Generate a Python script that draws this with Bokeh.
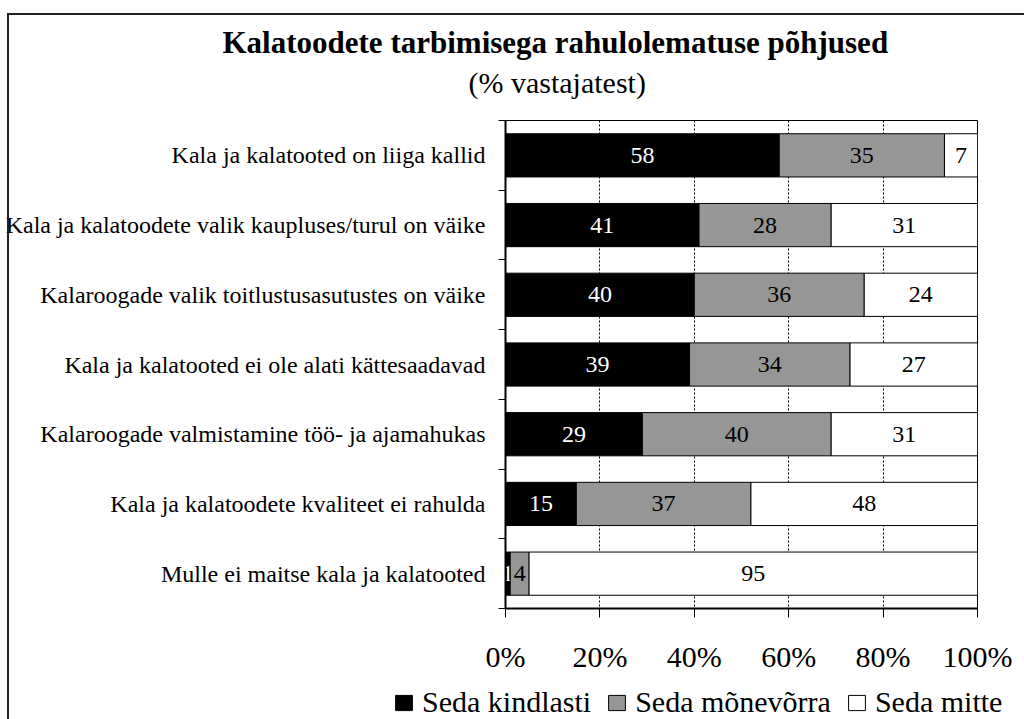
from bokeh.plotting import figure
from bokeh.layouts import column
from bokeh.models import (ColumnDataSource, FixedTicker, Legend, LegendItem, Title,
                          PrintfTickFormatter, Range1d, InlineStyleSheet)
from bokeh.core.properties import value
from bokeh.embed import file_html
from bokeh.resources import INLINE

categories = [
    "Kala ja kalatooted on liiga kallid",
    "Kala ja kalatoodete valik kaupluses/turul on väike",
    "Kalaroogade valik toitlustusasutustes on väike",
    "Kala ja kalatooted ei ole alati kättesaadavad",
    "Kalaroogade valmistamine töö- ja ajamahukas",
    "Kala ja kalatoodete kvaliteet ei rahulda",
    "Mulle ei maitse kala ja kalatooted",
]
seda_kindlasti = [58, 41, 40, 39, 29, 15, 1]
seda_monevorra = [35, 28, 36, 34, 40, 37, 4]
seda_mitte = [7, 31, 24, 27, 31, 48, 95]
series_names = ["Seda kindlasti", "Seda mõnevõrra", "Seda mitte"]
x_ticks = [0, 20, 40, 60, 80, 100]
title_text = "Kalatoodete tarbimisega rahulolematuse põhjused"
subtitle_text = "(% vastajatest)"

FONT = "Liberation Serif"
colors = ["#000000", "#969696", "#ffffff"]
label_colors = ["#ffffff", "#000000", "#000000"]

n = len(categories)
ypos = list(range(n))

p = figure(width=1024, height=675, output_backend="svg", toolbar_location=None,
           title=None,
           x_range=Range1d(0, 100), y_range=Range1d(n - 0.5, -0.5),
           min_border_left=505, min_border_right=47, min_border_top=120,
           min_border_bottom=66,
           background_fill_color="white", border_fill_color="white")
p.frame_align = False
p.outline_line_color = "black"
p.outline_line_width = 1

series = [seda_kindlasti, seda_monevorra, seda_mitte]
sources = []
left = [0] * n
for vals, name, col, tcol in zip(series, series_names, colors, label_colors):
    right = [l + v for l, v in zip(left, vals)]
    src = ColumnDataSource(dict(
        y=ypos, left=left, right=right,
        mid=[(a + b) / 2 for a, b in zip(left, right)],
        txt=[str(v) for v in vals]))
    sources.append(src)
    p.hbar(y="y", left="left", right="right", height=0.62, source=src,
           fill_color=col, line_color="black", line_width=1)
    p.text(x="mid", y="y", text="txt", source=src, text_color=tcol,
           text_font=value(FONT), text_font_size="24px",
           text_align="center", text_baseline="middle")
    left = right

# x axis
p.xaxis.ticker = FixedTicker(ticks=x_ticks)
p.xaxis.formatter = PrintfTickFormatter(format="%d%%")
p.xaxis.major_label_text_font = FONT
p.xaxis.major_label_text_font_size = "30px"
p.xaxis.major_label_text_color = "black"
p.xaxis.major_tick_in = 0
p.xaxis.major_tick_out = 9
p.xaxis.major_tick_line_color = "black"
p.xaxis.minor_tick_line_color = None
p.xaxis.major_label_standoff = 22
p.xaxis.axis_line_width = 2
p.xaxis.axis_line_color = "black"

p.xgrid.ticker = FixedTicker(ticks=x_ticks)
p.xgrid.grid_line_color = "black"
p.xgrid.grid_line_dash = "2 2"
p.xgrid.grid_line_width = 1
p.ygrid.grid_line_color = None

# y axis
p.yaxis.ticker = FixedTicker(ticks=ypos, minor_ticks=[i - 0.5 for i in range(n + 1)])
p.yaxis.major_label_overrides = {i: c for i, c in enumerate(categories)}
p.yaxis.major_label_text_font = FONT
p.yaxis.major_label_text_font_size = "24px"
p.yaxis.major_label_text_color = "black"
p.yaxis.major_tick_in = 0
p.yaxis.major_tick_out = 0
p.yaxis.minor_tick_in = 0
p.yaxis.minor_tick_out = 7
p.yaxis.minor_tick_line_color = "black"
p.yaxis.major_label_standoff = 13
p.yaxis.axis_line_width = 2
p.yaxis.axis_line_color = "black"

# titles (subtitle first: it sits closest to the plot)
p.add_layout(Title(text=subtitle_text, align="left", offset=-37,
                   text_font=FONT, text_font_size="30px", text_font_style="normal",
                   text_color="black", standoff=44), "above")
p.add_layout(Title(text=title_text, align="left", offset=-283,
                   text_font=FONT, text_font_size="31px", text_font_style="bold",
                   text_color="black", standoff=-36), "above")

# legend strip below the chart (its bars use the same sources, kept out of view)
lp = figure(width=1024, height=44, output_backend="svg", toolbar_location=None,
            title=None, x_range=Range1d(-2, -1), y_range=Range1d(0, 1),
            x_axis_location=None, y_axis_location=None, min_border=0,
            background_fill_color="white", border_fill_color="white")
lp.frame_align = False
lp.outline_line_color = None
lp.grid.visible = False
leg_renderers = [lp.hbar(y="y", left="left", right="right", height=0.62, source=src,
                         fill_color=c, line_color="black", line_width=1)
                 for src, c in zip(sources, colors)]
legend = Legend(items=[LegendItem(label=nm, renderers=[r])
                       for nm, r in zip(series_names, leg_renderers)],
                orientation="horizontal", location=(393, 0), padding=0, margin=0,
                spacing=15, label_standoff=8, glyph_width=21, glyph_height=19,
                label_text_font=FONT, label_text_font_size="30px",
                label_text_color="black",
                border_line_color=None, background_fill_alpha=0)
lp.add_layout(legend, "center")

layout = column(p, lp, spacing=0)
# outer frame of the chart area (top and left edges visible)
layout.stylesheets = [InlineStyleSheet(css=(
    ":host::after { content: ''; position: absolute; left: 7px; top: 13px; "
    "right: 0; bottom: 0; border-top: 2px solid #222; border-left: 2px solid #222; "
    "pointer-events: none; z-index: 10; }"))]

open("out.html", "w").write(file_html(layout, INLINE))
